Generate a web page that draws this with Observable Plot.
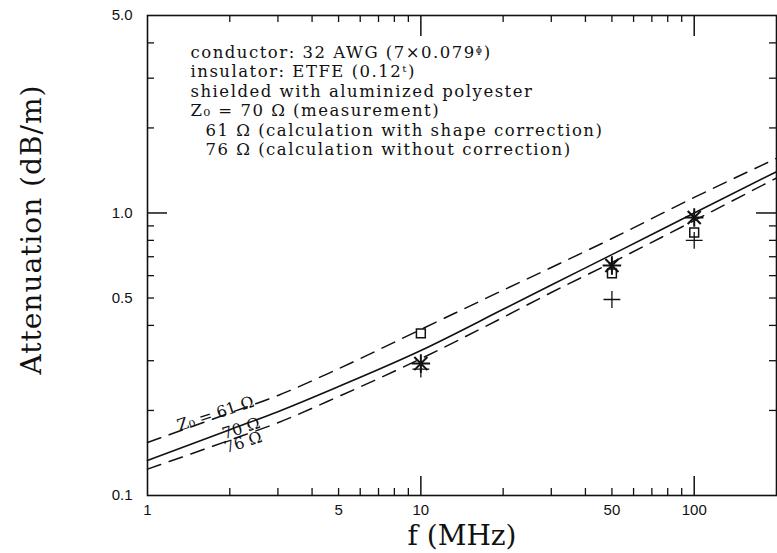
<!DOCTYPE html>
<html><head><meta charset="utf-8">
<script src="https://cdn.jsdelivr.net/npm/d3@7"></script>
<script src="https://cdn.jsdelivr.net/npm/@observablehq/plot@0.6"></script>
<style>body{margin:0;background:#fff}</style>
</head><body><div id="chart"></div>
<script>
// curve data (f in MHz, attenuation in dB/m)
const freqs = [1, 2, 3, 5, 10, 20, 30, 50, 100, 200];
const z61 = [0.154, 0.196, 0.226, 0.281, 0.387, 0.533, 0.641, 0.812, 1.135, 1.56];
const z70 = [0.133, 0.171, 0.198, 0.243, 0.326, 0.456, 0.556, 0.712, 1.00, 1.40];
const z76 = [0.124, 0.157, 0.181, 0.224, 0.305, 0.427, 0.523, 0.668, 0.94, 1.33];
// measured points
const measFreqs = [10, 50, 100];
const starVals = [0.293, 0.652, 0.964];
const squareVals = [0.375, 0.611, 0.853];
const plusVals = [0.28, 0.494, 0.80];
// ticks
const xTickLabels = [1, 5, 10, 50, 100];
const yTickLabels = [0.1, 0.5, 1.0, 5.0];
const xMinor = [2, 3, 4, 5, 6, 7, 8, 9, 20, 30, 40, 50, 60, 70, 80, 90];
const xMajor = [10, 100];
const yMinor = [0.2, 0.3, 0.4, 0.5, 0.6, 0.7, 0.8, 0.9, 2, 3, 4];
const yMajor = [1];
const notes = [
  "conductor: 32 AWG (7×0.079ᶲ)",
  "insulator: ETFE (0.12ᵗ)",
  "shielded with aluminized polyester",
  "Z₀ = 70 Ω (measurement)",
  "61 Ω (calculation with shape correction)",
  "76 Ω (calculation without correction)"
];
const curveLabels = ["Z₀ = 61 Ω", "70 Ω", "76 Ω"];

const W = 777, H = 553, mL = 147, mR = 1, mT = 15, mB = 58;
const plotH = H - mT - mB, plotW = W - mL - mR;
const serif = "DejaVu Serif";
const sans = "Liberation Sans";

const series = (vals) => freqs.map((f, i) => ({f, v: vals[i]}));
const pts = (vals) => measFreqs.map((f, i) => ({f, v: vals[i]}));

const ink = "#111";
const marks = [
  Plot.frame({stroke: ink, strokeWidth: 1.6}),
  // ticks inward
  Plot.tickX(xMinor, {x: d => d, insetTop: plotH - 7, stroke: ink, strokeWidth: 1.3}),
  Plot.tickX(xMajor, {x: d => d, insetTop: plotH - 19, stroke: ink, strokeWidth: 1.5}),
  Plot.tickX(xMinor, {x: d => d, insetBottom: plotH - 7, stroke: ink, strokeWidth: 1.3}),
  Plot.tickX(xMajor, {x: d => d, insetBottom: plotH - 21, stroke: ink, strokeWidth: 1.5}),
  Plot.tickY(yMinor, {y: d => d, insetRight: plotW - 7, stroke: ink, strokeWidth: 1.3}),
  Plot.tickY(yMajor, {y: d => d, insetRight: plotW - 20, stroke: ink, strokeWidth: 1.5}),
  Plot.tickY(yMinor, {y: d => d, insetLeft: plotW - 7, stroke: ink, strokeWidth: 1.3}),
  Plot.tickY(yMajor, {y: d => d, insetLeft: plotW - 20, stroke: ink, strokeWidth: 1.5}),
  // tick labels
  Plot.text(xTickLabels, {x: d => d, frameAnchor: "bottom", dy: 15, lineAnchor: "middle", text: d => String(d), fontSize: 15, fontFamily: sans, fill: ink}),
  Plot.text(yTickLabels, {y: d => d, frameAnchor: "left", dx: -15, textAnchor: "end", lineAnchor: "middle", text: d => d.toFixed(1), fontSize: 15, fontFamily: sans, fill: ink}),
  // axis titles
  Plot.text(["f (MHz)"], {frameAnchor: "bottom", dy: 41, lineAnchor: "middle", textAnchor: "middle", fontSize: 28, fontFamily: serif, fill: ink}),
  Plot.text(["Attenuation (dB/m)"], {frameAnchor: "left", dx: -115, dy: -26, rotate: -90, textAnchor: "middle", lineAnchor: "middle", fontSize: 28, fontFamily: serif, fill: ink}),
  // curves
  Plot.line(series(z61), {x: "f", y: "v", curve: "monotone-x", stroke: ink, strokeWidth: 1.5, strokeDasharray: "14,9"}),
  Plot.line(series(z70), {x: "f", y: "v", curve: "monotone-x", stroke: ink, strokeWidth: 1.6}),
  Plot.line(series(z76), {x: "f", y: "v", curve: "monotone-x", stroke: ink, strokeWidth: 1.5, strokeDasharray: "14,9"}),
  // curve labels
  Plot.text([curveLabels[0]], {x: freqs[1] * 0.9, y: z61[1] * 0.955, rotate: -18, lineAnchor: "bottom", fontSize: 16, fontFamily: serif, fill: ink}),
  Plot.text([curveLabels[1]], {x: freqs[1] * 1.1, y: z70[1] * 1.01, rotate: -18, lineAnchor: "middle", fontSize: 16, fontFamily: serif, fill: ink}),
  Plot.text([curveLabels[2]], {x: freqs[1] * 1.1, y: z76[1] * 1.03, rotate: -18, lineAnchor: "top", fontSize: 16, fontFamily: serif, fill: ink}),
  // measured points
  Plot.dot(pts(squareVals), {x: "f", y: "v", symbol: "square", r: 5, stroke: ink, strokeWidth: 1.5, fill: "none"}),
  Plot.dot(pts(plusVals), {x: "f", y: "v", symbol: "plus", r: 5.5, stroke: ink, strokeWidth: 1.3}),
  Plot.dot(pts(starVals), {x: "f", y: "v", symbol: "plus", r: 6, stroke: ink, strokeWidth: 2}),
  Plot.dot(pts(starVals), {x: "f", y: "v", symbol: "times", r: 6, stroke: ink, strokeWidth: 2}),
  // notes block
  ...notes.map((t, i) => Plot.text([t], {frameAnchor: "top-left", dx: 43 + (i >= 4 ? 15 : 0), dy: 37 + i * 19.5, textAnchor: "start", lineAnchor: "middle", fontSize: 16.5, fontFamily: serif, fill: ink}))
];

const chart = Plot.plot({
  width: W, height: H,
  marginLeft: mL, marginRight: mR, marginTop: mT, marginBottom: mB,
  style: {background: "#fff", color: ink},
  x: {type: "log", domain: [1, 200], axis: null},
  y: {type: "log", domain: [0.1, 5], axis: null},
  marks
});
d3.select(chart).selectAll("text")
  .filter(function() { return notes.includes(this.textContent); })
  .attr("letter-spacing", "1.5px");
d3.select(chart).selectAll("text")
  .filter(function() { return this.textContent === "Attenuation (dB/m)"; })
  .attr("letter-spacing", "1px");
document.getElementById("chart").appendChild(chart);
</script>
</body></html>
